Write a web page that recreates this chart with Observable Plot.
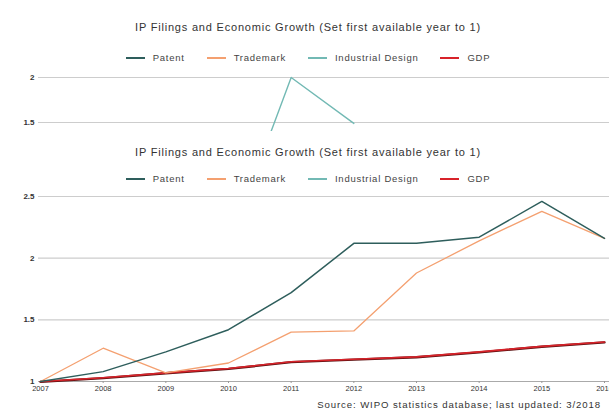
<!DOCTYPE html>
<html><head><meta charset="utf-8">
<script src="https://cdn.jsdelivr.net/npm/d3@7"></script>
<script src="https://cdn.jsdelivr.net/npm/@observablehq/plot@0.6"></script>
<style>
html,body{margin:0;padding:0;background:#fff}
body{width:609px;height:414px;overflow:hidden;position:relative;font-family:"Liberation Sans",Arial,sans-serif}
.blk{position:absolute;left:0;width:609px;overflow:hidden;background:#fff}
.title{position:absolute;left:0;width:616px;text-align:center;font-size:11px;letter-spacing:0.8px;line-height:14px;color:#333}
.legend{position:absolute;left:0;width:616px;display:flex;justify-content:center;font-size:9.5px;letter-spacing:0.75px;line-height:12px;color:#444}
.legend .it{display:flex;align-items:center;margin:0 11px}
.legend .sw{width:19px;height:2px;margin-right:8px}
.chart{position:absolute;left:0}
.chart svg{max-width:none !important;overflow:visible}
.cap{position:absolute;right:8px;font-size:9.6px;letter-spacing:0.9px;line-height:12px;color:#333;white-space:nowrap}
</style></head>
<body>
<script>
const years = [2007, 2008, 2009, 2010, 2011, 2012, 2013, 2014, 2015, 2016];
const patent = [1.00, 1.08, 1.24, 1.42, 1.72, 2.12, 2.12, 2.17, 2.46, 2.16];
const trademark = [1.00, 1.27, 1.07, 1.15, 1.40, 1.41, 1.88, 2.14, 2.38, 2.16];
const gdp = [1.00, 1.03, 1.07, 1.105, 1.16, 1.18, 1.20, 1.24, 1.285, 1.32];
const designYears = [2010, 2011, 2012];
const design = [0.13, 2.00, 1.49];
const seriesNames = ["Patent", "Trademark", "Industrial Design", "GDP"];
const seriesColors = ["#2e5e5c", "#f4a070", "#72b9b4", "#d8232a"];
const titleText = "IP Filings and Economic Growth (Set first available year to 1)";
const captionText = "Source: WIPO statistics database; last updated: 3/2018";
const yTicksBottom = [1, 1.5, 2, 2.5];
const yTicksTop = [1.5, 2];

const rows = (ys, vs, name) => ys.map((y, i) => ({year: y, value: vs[i], series: name}));
const colorOf = n => seriesColors[seriesNames.indexOf(n)];

function makeBlock(t, height) {
  const b = document.createElement("div");
  b.className = "blk";
  b.style.top = t + "px";
  b.style.height = height + "px";
  document.body.appendChild(b);
  return b;
}
function addHeader(block, titleTop, legendTop) {
  const t = document.createElement("div");
  t.className = "title"; t.style.top = titleTop + "px"; t.textContent = titleText;
  block.appendChild(t);
  const lg = document.createElement("div");
  lg.className = "legend"; lg.style.top = legendTop + "px";
  seriesNames.forEach((n, i) => {
    const it = document.createElement("div"); it.className = "it";
    const sw = document.createElement("div"); sw.className = "sw"; sw.style.backgroundColor = seriesColors[i];
    const tx = document.createElement("span"); tx.textContent = n;
    it.appendChild(sw); it.appendChild(tx); lg.appendChild(it);
  });
  block.appendChild(lg);
}
const fmt = d => String(d);
const plotStyle = {background: "transparent", fontFamily: "Liberation Sans, Arial, sans-serif"};

// Upper (partially covered) chart
const upperBlock = makeBlock(0, 131);
addHeader(upperBlock, 20, 52);
const upperPlot = Plot.plot({
  width: 640, height: 210, marginLeft: 38, marginRight: 0, marginTop: 10, marginBottom: 20,
  style: plotStyle,
  x: {domain: [2007, 2016], range: [40, 604], axis: null},
  y: {domain: [0, 2], label: null, axis: null},
  marks: [
    Plot.ruleY(yTicksTop, {stroke: "#cdcdcd", strokeWidth: 1.2}),
    Plot.axisY({ticks: yTicksTop, tickFormat: fmt, tickSize: 0, tickPadding: 4, fontSize: 8, fill: "#333", fontWeight: "bold", label: null}),
    Plot.line(rows(designYears, design, "Industrial Design"), {x: "year", y: "value", stroke: colorOf("Industrial Design"), strokeWidth: 1.4})
  ]
});
const uc = document.createElement("div"); uc.className = "chart"; uc.style.top = "67px";
uc.appendChild(upperPlot); upperBlock.appendChild(uc);

// Lower (full) chart
const lowerBlock = makeBlock(131, 283);
addHeader(lowerBlock, 14, 42);
const data = [
  ...rows(years, gdp, "GDP"),
  ...rows(years, trademark, "Trademark"),
  ...rows(years, patent, "Patent")
];
const lowerPlot = Plot.plot({
  width: 640, height: 218, marginLeft: 38, marginRight: 0, marginTop: 10, marginBottom: 23,
  style: plotStyle,
  x: {domain: [2007, 2016], range: [40, 604], label: null},
  y: {domain: [1, 2.5], label: null},
  marks: [
    Plot.ruleY(yTicksBottom.slice(1), {stroke: "#cdcdcd", strokeWidth: 1.2}),
    Plot.ruleY([1], {stroke: "#aaa", strokeWidth: 1}),
    Plot.axisY({ticks: yTicksBottom, tickFormat: fmt, tickSize: 0, tickPadding: 4, fontSize: 8, fill: "#333", fontWeight: "bold", label: null}),
    Plot.axisX({ticks: years, tickFormat: fmt, tickSize: 2, tickPadding: 2, fontSize: 7.5, fill: "#333", stroke: "#999", label: null, style: {letterSpacing: "0.5px"}}),
    Plot.line(data.filter(d => d.series === "GDP"), {x: "year", y: "value", stroke: "#5a1010", strokeWidth: 2.3, dy: 0.4}),
    Plot.line(data, {x: "year", y: "value", z: "series", stroke: d => colorOf(d.series),
      strokeWidth: d => d.series === "GDP" ? 1.6 : (d.series === "Patent" ? 1.5 : 1.3)})
  ]
});
const lc = document.createElement("div"); lc.className = "chart"; lc.style.top = "55px";
lc.appendChild(lowerPlot); lowerBlock.appendChild(lc);
const cap = document.createElement("div"); cap.className = "cap"; cap.style.top = "268px"; cap.textContent = captionText;
lowerBlock.appendChild(cap);
</script>
</body></html>
